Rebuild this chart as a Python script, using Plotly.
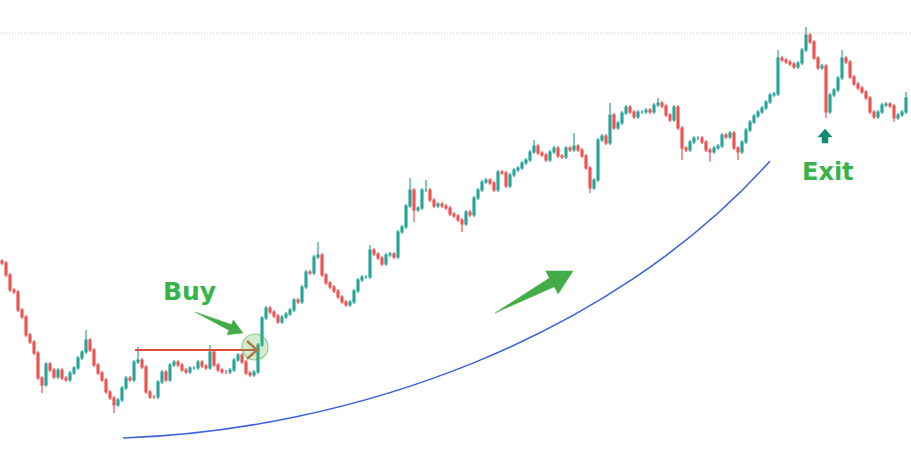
import plotly.graph_objects as go

# ---- data (price units) ----
first_open = 214
close = [212, 200, 185, 183, 165, 158, 140, 133, 122, 97,
         90, 111, 105, 98, 105, 97, 95, 102, 107, 117,
         123, 135, 125, 110, 102, 95, 83, 77, 70, 75,
         87, 97, 95, 113, 115, 108, 83, 78, 78, 93,
         103, 95, 110, 113, 110, 105, 103, 107, 107, 113,
         109, 107, 123, 110, 105, 103, 103, 105, 115, 120,
         113, 102, 100, 103, 130, 157, 167, 163, 159, 153,
         158, 161, 165, 175, 173, 188, 203, 202, 218, 220,
         200, 192, 188, 184, 178, 173, 170, 173, 184, 195,
         198, 198, 225, 221, 217, 211, 220, 221, 218, 243,
         248, 269, 285, 265, 267, 285, 285, 275, 269, 271,
         269, 267, 261, 259, 255, 251, 263, 260, 277, 285,
         293, 295, 292, 285, 303, 302, 289, 300, 305, 307,
         312, 315, 323, 329, 322, 320, 315, 323, 327, 319,
         318, 327, 325, 329, 325, 319, 307, 287, 295, 335,
         339, 332, 360, 347, 352, 362, 368, 363, 358, 363,
         363, 365, 363, 370, 372, 369, 360, 355, 368, 347,
         327, 325, 333, 337, 337, 333, 325, 323, 327, 329,
         340, 338, 342, 327, 323, 333, 345, 353, 359, 363,
         367, 373, 380, 381, 417, 415, 413, 411, 408, 412,
         425, 440, 433, 417, 407, 409, 363, 380, 385, 397,
         417, 413, 398, 391, 387, 383, 377, 363, 358, 363,
         370, 371, 369, 357, 360, 363, 377]
high_override = {21: 145, 34: 128, 52: 130, 79: 233, 92: 230, 102: 297,
                 106: 295, 133: 335, 143: 342, 152: 372, 164: 377,
                 194: 425, 201: 448, 210: 425, 226: 383}
low_override = {10: 82, 28: 62, 103: 253, 115: 243, 147: 282, 170: 315,
                177: 313, 184: 315, 206: 357, 223: 353}
peak_level = 442

opens = [first_open] + close[:-1]
WICK = 2
high, low = [], []
for i, (o, c) in enumerate(zip(opens, close)):
    high.append(high_override.get(i, max(o, c) + WICK))
    low.append(low_override.get(i, min(o, c) - WICK))
idx = list(range(len(close)))

W, H = 911, 475
def X(px):  # pixel -> data x
    return px / 4 - 0.5
def Y(py):  # pixel -> data y
    return H - py

fig = go.Figure(go.Candlestick(
    x=idx, open=opens, high=high, low=low, close=close,
    increasing=dict(line=dict(color="#26a69a", width=1.2), fillcolor="#26a69a"),
    decreasing=dict(line=dict(color="#ef5350", width=1.2), fillcolor="#ef5350"),
    whiskerwidth=0, showlegend=False, hoverinfo="skip"))

green = "#43ac47"
shapes = []
# dotted line at the high
shapes.append(dict(type="line", xref="paper", x0=0, x1=1, yref="y", y0=peak_level, y1=peak_level,
                   line=dict(color="rgba(239,83,80,0.45)", width=1, dash="1px,2px")))
# blue curve
def P(px, py):
    return f"{X(px)},{Y(py)}"
shapes.append(dict(type="path", xref="x", yref="y",
                   path=f"M {P(123,438)} C {P(350,430)} {P(610,340)} {P(770,161)}",
                   line=dict(color="#3f63d8", width=1.6)))
# red breakout line with chevron
shapes.append(dict(type="line", xref="x", yref="y", x0=X(135), x1=X(257), y0=Y(350), y1=Y(350),
                   line=dict(color="#dc4a3c", width=2.2)))
shapes.append(dict(type="path", xref="x", yref="y",
                   path=f"M {P(247,341)} L {P(257,350)} L {P(247,359)}",
                   line=dict(color="#d9603f", width=2.4)))
# green circle
shapes.append(dict(type="circle", xref="x", yref="y", x0=X(242), x1=X(268), y0=Y(360), y1=Y(334),
                   fillcolor="rgba(76,175,80,0.25)", line=dict(color="rgba(76,175,80,0.6)", width=1.2)))
# Buy arrow
shapes.append(dict(type="path", xref="x", yref="y",
                   path=f"M {P(195,312)} L {P(231.4,324.6)} L {P(233.4,320.1)} L {P(243,333)} "
                        f"L {P(227,334.7)} L {P(229,330.2)} Z",
                   fillcolor=green, line=dict(color=green, width=0.5)))
# big trend arrow
shapes.append(dict(type="path", xref="x", yref="y",
                   path=f"M {P(495,313)} L {P(549.5,278)} L {P(545.7,270.9)} L {P(573,271)} "
                        f"L {P(558.1,293.9)} L {P(554.3,286.8)} Z",
                   fillcolor=green, line=dict(color=green, width=0.5)))
# Exit arrow (teal)
teal = "#138a72"
shapes.append(dict(type="path", xref="x", yref="y",
                   path=f"M {P(825,129)} L {P(832,137)} L {P(828,137)} L {P(828,143)} "
                        f"L {P(822,143)} L {P(822,137)} L {P(818,137)} Z",
                   fillcolor=teal, line=dict(color=teal, width=0.5)))

annotations = [
    dict(x=X(189), y=Y(291), xref="x", yref="y", text="<b>Buy</b>", showarrow=False,
         font=dict(family="DejaVu Sans", size=25, color="#38b34a")),
    dict(x=X(828), y=Y(172), xref="x", yref="y", text="<b>Exit</b>", showarrow=False,
         font=dict(family="DejaVu Sans", size=24, color="#38b34a")),
]

fig.update_layout(
    width=W, height=H, margin=dict(l=0, r=0, t=0, b=0),
    paper_bgcolor="white", plot_bgcolor="white",
    shapes=shapes, annotations=annotations,
    xaxis=dict(range=[X(0), X(W)], visible=False, rangeslider=dict(visible=False), fixedrange=True),
    yaxis=dict(range=[0, H], visible=False, fixedrange=True),
)

fig.write_html("out.html")
